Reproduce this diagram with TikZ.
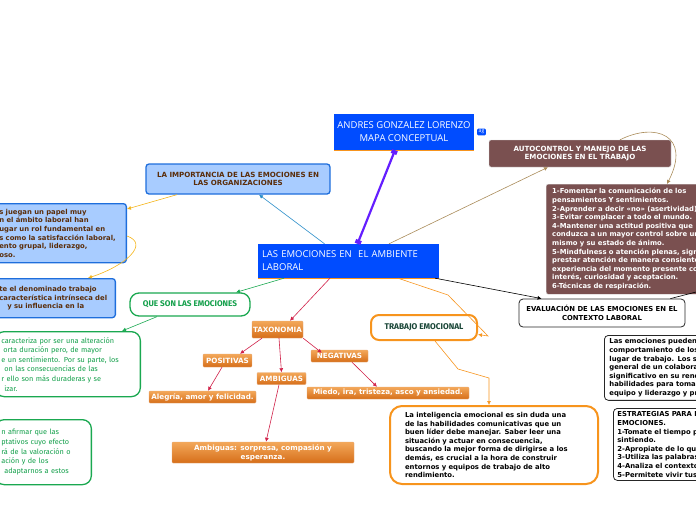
\documentclass[tikz,border=0pt]{standalone}
\usepackage{fontspec}
\setmainfont{DejaVu Sans}
\newfontfamily\trebfont{Fira Sans}
\newfontfamily\segoefont{Open Sans}
\usepackage{xcolor}
\usetikzlibrary{arrows.meta, positioning}

\definecolor{mainblue}{RGB}{0,76,255}
\definecolor{lightblue}{RGB}{168,204,255}
\definecolor{edgeblue}{RGB}{30,110,220}
\definecolor{darkbrown}{RGB}{90,45,10}
\definecolor{rosebrown}{RGB}{122,80,80}
\definecolor{greenline}{RGB}{26,168,80}
\definecolor{textgreen}{RGB}{20,160,75}
\definecolor{orangeedge}{RGB}{247,148,29}
\definecolor{orangetop}{RGB}{243,168,90}
\definecolor{orangebot}{RGB}{214,110,25}
\definecolor{crimson}{RGB}{208,32,72}
\definecolor{purpleline}{RGB}{100,30,255}
\definecolor{tanline}{RGB}{170,140,90}
\definecolor{yellowline}{RGB}{245,180,25}
\definecolor{linkblue}{RGB}{40,140,200}
\definecolor{darkgreen}{RGB}{25,70,55}

\newcommand\boldsmall{\fontsize{6.85}{8.6}\selectfont\bfseries}
\newcommand\boldhead{\fontsize{7.1}{8.8}\selectfont\bfseries}
\newcommand\greensmall{\trebfont\fontsize{7.3}{9.6}\selectfont}

\begin{document}
\begin{tikzpicture}[
  x=1pt, y=-1pt,
  mainbox/.style={fill=mainblue, text=white, font=\segoefont\fontsize{9.5}{13}\selectfont, inner sep=2pt},
  lightbox/.style={draw=edgeblue, fill=lightblue, line width=1.3pt, rounded corners=3pt, text=darkbrown, font=\boldsmall},
  brownbox/.style={fill=rosebrown, draw=black!15, rounded corners=2pt, text=white, font=\boldsmall},
  orangebox/.style={top color=orangetop, bottom color=orangebot, draw=orangebot!60, rounded corners=1pt, text=white, font=\fontsize{7.2}{8.8}\selectfont\bfseries, inner sep=1pt},
  greenbox/.style={draw=greenline, fill=white, line width=1.3pt, rounded corners=9pt, text=textgreen},
  orangeround/.style={draw=orangeedge, fill=white, line width=2pt, rounded corners=12pt},
  blackbox/.style={draw=black!85, fill=white, line width=0.8pt, rounded corners=4pt, text=black, font=\boldsmall},
  arr/.style={-{Latex[length=4pt,width=4pt]}, line width=0.6pt}
]
\useasboundingbox (0,0) rectangle (696,520);
\clip (0,0) rectangle (696,520);

% main nodes
\node[mainbox, minimum width=140, minimum height=36, align=center] (autor) at (404,132) {ANDRES GONZALEZ LORENZO\\MAPA CONCEPTUAL};
\node[fill=mainblue, text=white, font=\segoefont\fontsize{5}{6}\selectfont, inner sep=1.5pt, rounded corners=1pt] (tag) at (481.5,132) {ag};
\node[mainbox, minimum width=181, minimum height=34, text width=173, inner xsep=4, align=left] (central) at (348.5,261) {LAS EMOCIONES EN\ \ EL AMBIENTE\\LABORAL};
\draw[orangeedge, line width=1pt] (autor.south west) -- (autor.south east);
\draw[orangeedge, line width=1pt] (central.south west) -- (central.south east);

% left side
\node[lightbox, minimum width=184, minimum height=30, align=center, font=\boldhead] (importancia) at (238,179) {LA IMPORTANCIA DE LAS EMOCIONES EN\\LAS ORGANIZACIONES};
\node[lightbox, anchor=north east, minimum height=59, text width=122, inner xsep=5, align=left] (papel) at (127,203) {s juegan un papel muy\\n el ámbito laboral han\\ugar un rol fundamental en\\s como la satisfacción laboral,\\ento grupal, liderazgo,\\oso.};
\node[lightbox, anchor=north east, minimum height=39, text width=112, inner xsep=4, align=left] (trabajo) at (116,278) {te el denominado trabajo\\característica intrínseca del\\\hspace*{8pt}y su influencia en la};

\node[greenbox, minimum width=120, minimum height=23, font=\trebfont\bfseries\fontsize{8.2}{9}\selectfont] (queson) at (190,304.5) {QUE SON LAS EMOCIONES};
\node[greenbox, anchor=north east, minimum height=65, text width=133, inner xsep=6, align=left, font=\greensmall] (alteracion) at (141,331) {caracteriza por ser una alteración\\\hspace*{2pt}orta duración pero, de mayor\\e un sentimiento. Por su parte, los\\\hspace*{3pt}on las consecuencias de las\\r ello son más duraderas y se\\\hspace*{3pt}izar.};
\node[greenbox, anchor=north east, minimum height=65, text width=84, inner xsep=6, align=left, font=\greensmall] (adaptativos) at (92,419) {n afirmar que las\\ptativos cuyo efecto\\rá de la valoración o\\ación y de los\\\hspace*{3pt}adaptarnos a estos};

% taxonomia
\node[orangebox, minimum width=51, minimum height=17] (taxonomia) at (277.5,329.5) {TAXONOMIA};
\node[orangebox, minimum width=49, minimum height=13] (positivas) at (227.5,360.5) {POSITIVAS};
\node[orangebox, minimum width=49, minimum height=12] (ambiguas) at (281.5,378.5) {AMBIGUAS};
\node[orangebox, minimum width=57, minimum height=12] (negativas) at (339.5,356) {NEGATIVAS};
\node[orangebox, minimum width=107, minimum height=12] (alegria) at (202.5,397) {Alegría, amor y felicidad.};
\node[orangebox, minimum width=162, minimum height=12] (miedo) at (388,393) {Miedo, ira, tristeza, asco y ansiedad.};
\node[orangebox, minimum width=182, minimum height=21, align=center] (sorpresa) at (263,452.5) {Ambiguas: sorpresa, compasión y\\esperanza.};

% trabajo emocional
\node[orangeround, rounded corners=8pt, minimum width=106, minimum height=25, text=darkgreen, font=\trebfont\bfseries\fontsize{8.3}{9}\selectfont] (emocional) at (424,327.5) {TRABAJO EMOCIONAL};
\node[orangeround, minimum width=208, minimum height=78, text width=178, inner xsep=15, align=left, font=\boldsmall] (inteligencia) at (494,445) {La inteligencia emocional es sin duda una\\de las habilidades comunicativas que un\\buen líder debe manejar. Saber leer una\\situación y actuar en consecuencia,\\buscando la mejor forma de dirigirse a los\\demás, es crucial a la hora de construir\\entornos y equipos de trabajo de alto\\rendimiento.};

% right side
\node[brownbox, minimum width=182, minimum height=27, align=center, font=\boldhead] (autocontrol) at (580,153.5) {AUTOCONTROL Y MANEJO DE LAS\\EMOCIONES EN EL TRABAJO};
\node[brownbox, anchor=north west, minimum height=110, text width=200, inner xsep=6, align=left] (tecnicas) at (546,184) {1-Fomentar la comunicación de los\\pensamientos Y sentimientos.\\2-Aprender a decir «no» (asertividad).\\3-Evitar complacer a todo el mundo.\\4-Mantener una actitud positiva que\\conduzca a un mayor control sobre uno\\mismo y su estado de ánimo.\\5-Mindfulness o atención plenas, significa\\prestar atención de manera consiente a la\\experiencia del momento presente con\\interés, curiosidad y aceptacion.\\6-Técnicas de respiración.};
\node[blackbox, minimum width=166, minimum height=28, align=center] (evaluacion) at (602,313) {EVALUACIÓN DE LAS EMOCIONES EN EL\\CONTEXTO LABORAL};
\node[blackbox, anchor=north west, minimum height=64, text width=200, inner xsep=5, align=left] (comportamiento) at (604,335) {Las emociones pueden afectar\\comportamiento de los empleados\\lugar de trabajo. Los sentimientos\\general de un colaborador\\significativo en su rendimiento\\habilidades para tomar decisiones\\equipo y liderazgo y productividad};
\node[blackbox, anchor=north west, minimum height=71, text width=200, inner xsep=4, align=left] (estrategias) at (613,408) {ESTRATEGIAS PARA LAS\\EMOCIONES.\\1-Tomate el tiempo para\\sintiendo.\\2-Apropiate de lo que\\3-Utiliza las palabras\\4-Analiza el contexto\\5-Permitete vivir tus};
\coordinate (fuera) at (700,291);

% connectors
\draw[purpleline, line width=2.2pt, {Square[length=4pt,width=6pt]}-{Square[length=4pt,width=6pt]}] ([xshift=9]central.north) -- ([xshift=-9]autor.south);
\draw[arr, linkblue] ([xshift=-24]central.north) -- ([xshift=21]importancia.south);
\draw[arr, yellowline] ([xshift=-61]importancia.south) -- ([yshift=-6]papel.north east);
\draw[arr, yellowline] ([yshift=-33]papel.north east) .. controls (150,244) and (125,266) .. ([xshift=-28]trabajo.north east);
\draw[arr, greenline] ([xshift=-64.5]central.south) -- ([xshift=46]queson.north);
\draw[arr, greenline] ([xshift=-33]queson.south) -- ([xshift=-19]alteracion.north east);
\draw[arr, crimson] ([xshift=-18.5]central.south) -- ([xshift=12.5]taxonomia.north);
\draw[arr, crimson] ([xshift=-15.5]taxonomia.south) -- ([xshift=12.5]positivas.north);
\draw[arr, crimson] ([xshift=1.5]taxonomia.south) -- (ambiguas.north);
\draw[arr, crimson] (taxonomia.south east) -- ([xshift=11,yshift=-3]negativas.north west);
\draw[arr, crimson] ([xshift=-5.5]positivas.south) -- ([xshift=5.5]alegria.north);
\draw[arr, crimson] ([xshift=-2.5]ambiguas.south) -- ([xshift=3]sorpresa.north);
\draw[arr, crimson] ([xshift=12.5]negativas.south) -- ([xshift=-11]miedo.north);
\draw[arr, orangeedge] ([xshift=49.5]central.south) -- (448,295) -- (488,336) -- ([yshift=-7]emocional.east);
\draw[arr, orangeedge] ([xshift=11]emocional.south) -- (458,369) -- (489,378) -- ([xshift=-5]inteligencia.north);
\draw[arr, tanline] ([xshift=40.5]central.north) -- ([xshift=-32]autocontrol.south);
\draw[arr, tanline] ([xshift=40]autocontrol.north) .. controls (655,122) and (692,135) .. ([xshift=121]tecnicas.north west);
\draw[arr, black] ([xshift=-4]central.south east) -- ([xshift=23]evaluacion.north west);
\draw[black, line width=0.6pt] ([xshift=-15]evaluacion.north east) -- (fuera);
\end{tikzpicture}
\end{document}
